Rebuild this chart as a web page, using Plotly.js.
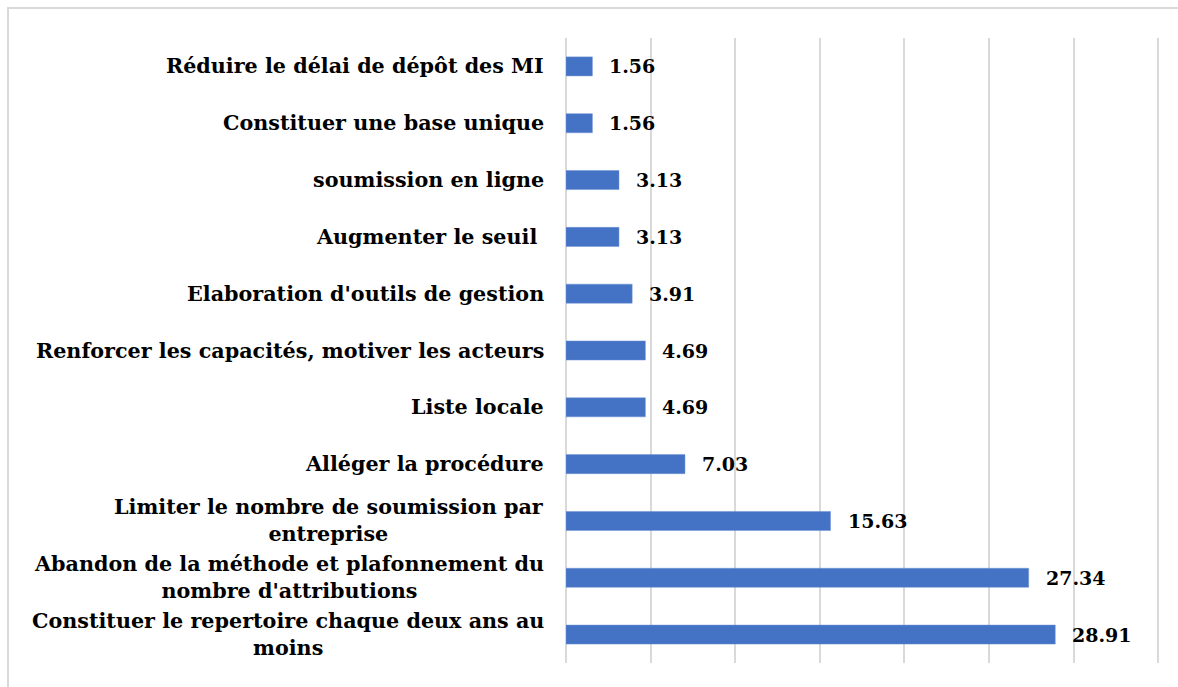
<!DOCTYPE html>
<html>
<head>
<meta charset="utf-8">
<script src="https://cdn.plot.ly/plotly-3.0.1.min.js"></script>
<style>
  html, body { margin: 0; padding: 0; background: #ffffff; }
  #wrap { position: relative; width: 1178px; height: 687px; overflow: hidden; }
  #frame { position: absolute; left: 7px; top: 7px; width: 1200px; height: 720px; border: 2px solid #d9d9d9; box-sizing: border-box; pointer-events: none; }
  #chart { position: absolute; left: 0; top: 0; width: 1178px; height: 687px; }
</style>
</head>
<body>
<div id="wrap">
  <div id="chart"></div>
  <div id="frame"></div>
</div>
<script>
// Categories listed bottom to top
const categories = [
  "Constituer le repertoire chaque deux ans au<br>moins",
  "Abandon de la méthode et plafonnement du<br>nombre d'attributions",
  "Limiter le nombre de soumission par<br>entreprise",
  "Alléger la procédure",
  "Liste locale",
  "Renforcer les capacités, motiver les acteurs",
  "Elaboration d'outils de gestion",
  "Augmenter le seuil ",
  "soumission en ligne",
  "Constituer une base unique",
  "Réduire le délai de dépôt des MI"
];
const values = [28.91, 27.34, 15.63, 7.03, 4.69, 4.69, 3.91, 3.13, 3.13, 1.56, 1.56];
const valueLabels = ["28.91", "27.34", "15.63", "7.03", "4.69", "4.69", "3.91", "3.13", "3.13", "1.56", "1.56"];

const FONT = "DejaVu Serif";
const labelFont = { family: FONT, size: 20.7, color: "#000000", weight: "bold" };
const numFont = { family: FONT, size: 19, color: "#000000", weight: "bold" };

const catAnnotations = categories.map((c, i) => ({
  x: 0, y: i, xref: "x", yref: "y",
  text: "<b>" + c + "</b>",
  showarrow: false, xanchor: "right", yanchor: "middle",
  align: "center", xshift: -20,
  font: labelFont
}));
const valAnnotations = values.map((v, i) => ({
  x: v, y: i, xref: "x", yref: "y",
  text: "<b>" + valueLabels[i] + "</b>",
  showarrow: false, xanchor: "left", yanchor: "middle",
  xshift: 15, font: numFont
}));

const trace = {
  type: "bar",
  orientation: "h",
  x: values,
  y: categories.map((c, i) => i),
  marker: { color: "#4472C4", line: { color: "#6f93d4", width: 0.5 } },
  hoverinfo: "skip"
};

const layout = {
  width: 1178, height: 687,
  margin: { l: 566, r: 18, t: 38, b: 24, pad: 0 },
  paper_bgcolor: "#ffffff", plot_bgcolor: "#ffffff",
  showlegend: false,
  bargap: 0.665,
  xaxis: {
    range: [0, 35.1], dtick: 5, tick0: 0,
    showgrid: true, gridcolor: "#d9d9d9", gridwidth: 2,
    zeroline: true, zerolinecolor: "#d9d9d9", zerolinewidth: 2,
    showticklabels: false, ticks: "", showline: false, fixedrange: true
  },
  yaxis: {
    range: [-0.5, 10.5],
    showgrid: false, zeroline: false, showticklabels: false,
    ticks: "", showline: false, fixedrange: true
  },
  annotations: catAnnotations.concat(valAnnotations)
};

Plotly.newPlot("chart", [trace], layout, { displayModeBar: false, staticPlot: true });
</script>
</body>
</html>
